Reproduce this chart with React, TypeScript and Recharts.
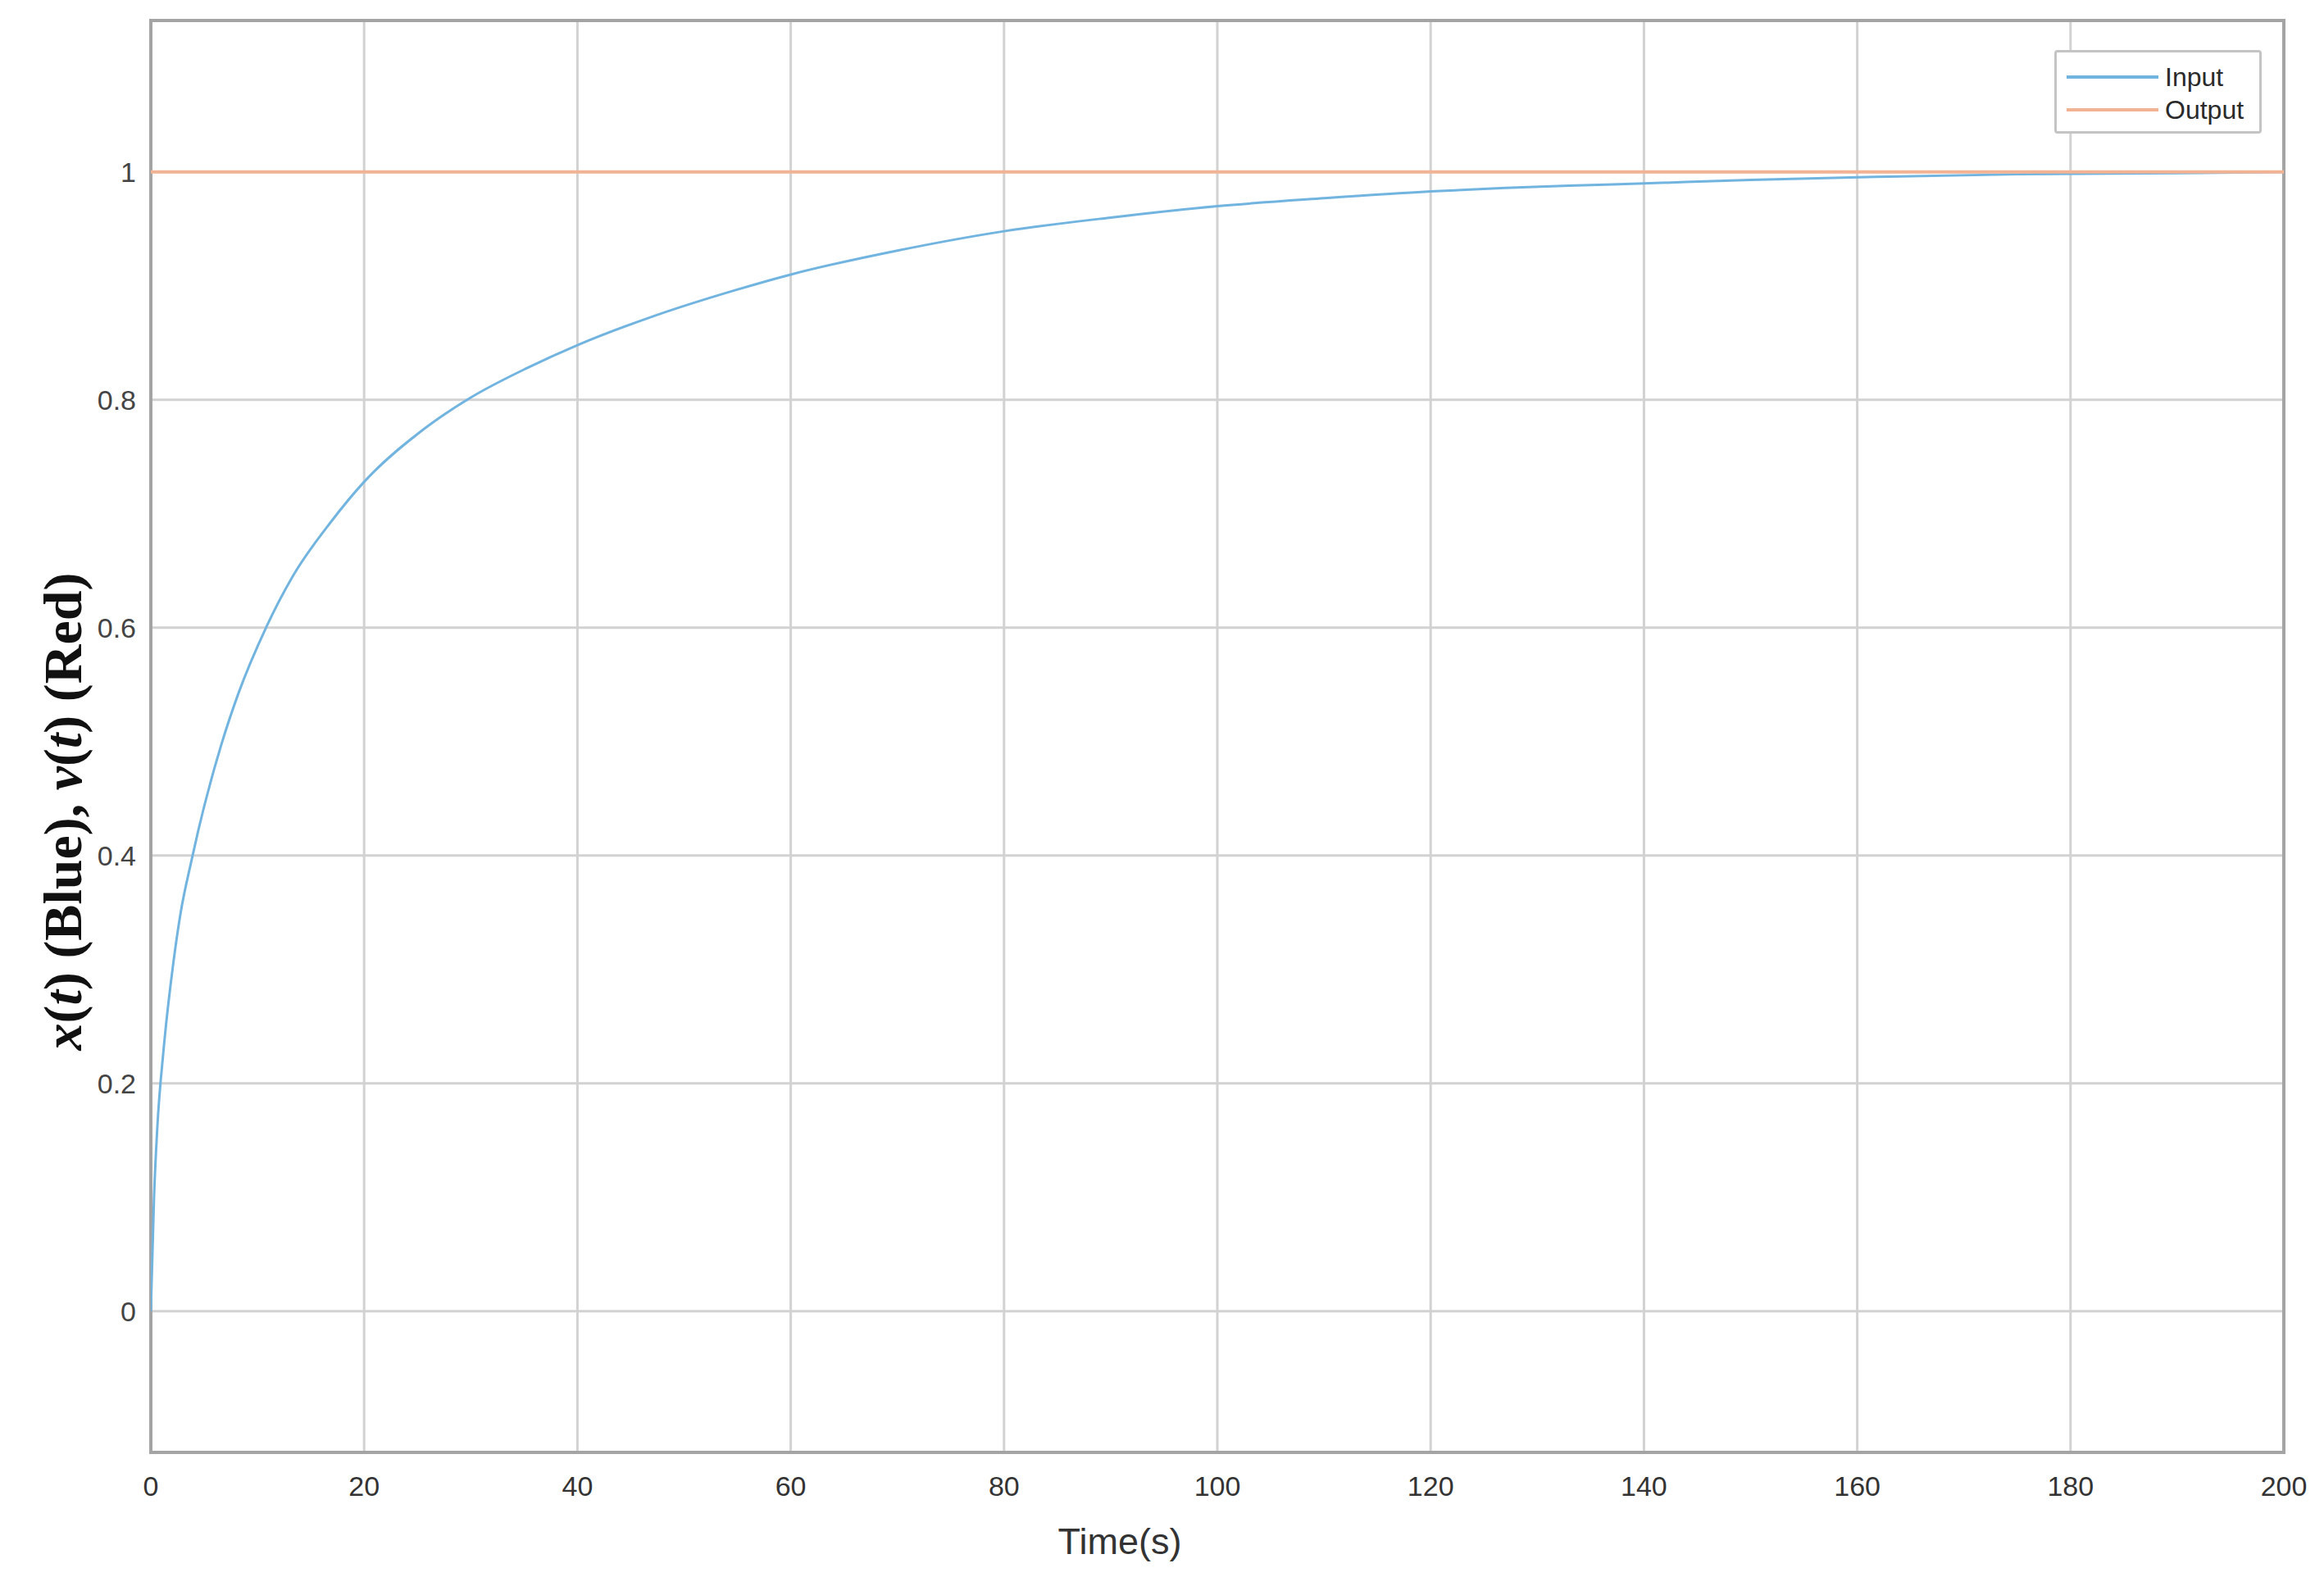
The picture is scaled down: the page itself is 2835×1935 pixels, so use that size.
import { LineChart, Line, XAxis, YAxis, CartesianGrid, ReferenceArea, Legend } from "recharts";

// (seconds, response)
const TIME = [0, 0.3, 0.6, 1.2, 2.1, 2.8, 3.8, 4.4, 6.6, 8.2, 10.8, 13.3, 16.9, 20, 25.7, 30, 35.3, 40, 47, 54.7, 60, 70, 80, 90, 100, 110, 120, 127, 133, 140, 150, 163, 175, 190, 200];
const INPUT = [0, 0.1, 0.16, 0.23, 0.305, 0.35, 0.395, 0.42, 0.497, 0.542, 0.6, 0.645, 0.693, 0.728, 0.775, 0.802, 0.828, 0.848, 0.873, 0.896, 0.91, 0.931, 0.948, 0.96, 0.97, 0.977, 0.983, 0.986, 0.988, 0.99, 0.993, 0.996, 0.998, 0.999, 1];
const OUTPUT_TIME = [0, 200];
const OUTPUT = [1, 1];

const X_TICKS = [0, 20, 40, 60, 80, 100, 120, 140, 160, 180, 200];
const Y_TICKS = [0, 0.2, 0.4, 0.6, 0.8, 1];
// top of the axes is cut off in the source image
const Y_DOMAIN = [-0.124, 1.133];

const BLUE = "#72b4e0";
const ORANGE = "#f2b294";
const SANS = "'Liberation Sans', Arial, sans-serif";

const inputData = TIME.map((t, i) => ({ t, input: INPUT[i] }));
const outputData = OUTPUT_TIME.map((t, i) => ({ t, output: OUTPUT[i] }));

function YLabel() {
  return (
    <text
      x={76}
      y={990}
      transform="rotate(-90 76 990)"
      textAnchor="middle"
      dominantBaseline="central"
      fontFamily="'Liberation Serif', 'Times New Roman', serif"
      fontWeight="bold"
      fontSize={66}
      fill="#111"
    >
      <tspan fontStyle="italic">x</tspan>(<tspan fontStyle="italic">t</tspan>) (Blue), <tspan fontStyle="italic">v</tspan>(<tspan fontStyle="italic">t</tspan>) (Red)
    </text>
  );
}

function XLabel() {
  return (
    <text x={1366} y={1880} textAnchor="middle" dominantBaseline="central" fontFamily={SANS} fontSize={45} fill="#333">
      Time(s)
    </text>
  );
}

function LegendBox({ payload }: { payload?: any[] }) {
  return (
    <div
      style={{
        width: 253,
        height: 102,
        boxSizing: "border-box",
        border: "3px solid #c4c4c4",
        borderRadius: 4,
        background: "white",
        padding: "10px 0 0 12px",
        fontFamily: SANS,
        fontSize: 32,
        color: "#2a2a2a",
      }}
    >
      {(payload || []).map((p) => (
        <div key={p.value} style={{ display: "flex", alignItems: "center", height: 40 }}>
          <span style={{ width: 112, height: 4, background: p.color, marginRight: 8 }} />
          {p.value}
        </div>
      ))}
    </div>
  );
}

export default function App() {
  return (
    <div style={{ width: 2835, height: 1935, background: "white" }}>
      <style>{`body{margin:0}`}</style>
      <LineChart width={2835} height={1935} margin={{ top: 25, right: 49, bottom: 0, left: 0 }}>
        <CartesianGrid stroke="#d2d2d2" strokeWidth={3} horizontalValues={Y_TICKS} verticalValues={X_TICKS} />
        <XAxis
          type="number"
          dataKey="t"
          domain={[0, 200]}
          ticks={X_TICKS}
          height={163}
          axisLine={false}
          tickLine={false}
          tickSize={10}
          tickMargin={19}
          tick={{ fontSize: 34, fill: "#333", fontFamily: SANS }}
          label={<XLabel />}
          allowDataOverflow
        />
        <YAxis
          type="number"
          domain={Y_DOMAIN}
          ticks={Y_TICKS}
          width={184}
          axisLine={false}
          tickLine={false}
          tickSize={6}
          tickMargin={12}
          tick={{ fontSize: 34, fill: "#444", fontFamily: SANS }}
          label={<YLabel />}
          allowDataOverflow
        />
        <ReferenceArea x1={0} x2={200} y1={Y_DOMAIN[0]} y2={Y_DOMAIN[1]} fill="none" stroke="#a4a4a4" strokeWidth={4} />
        <Line
          data={inputData}
          dataKey="input"
          name="Input"
          type="monotone"
          stroke={BLUE}
          strokeWidth={3}
          dot={false}
          isAnimationActive={false}
        />
        <Line
          data={outputData}
          dataKey="output"
          name="Output"
          type="linear"
          stroke={ORANGE}
          strokeWidth={4}
          dot={false}
          isAnimationActive={false}
        />
        <Legend
          layout="vertical"
          align="center"
          verticalAlign="middle"
          content={<LegendBox />}
          wrapperStyle={{ position: "absolute", left: 2506, top: 61, width: 253, height: 102 }}
        />
      </LineChart>
    </div>
  );
}
